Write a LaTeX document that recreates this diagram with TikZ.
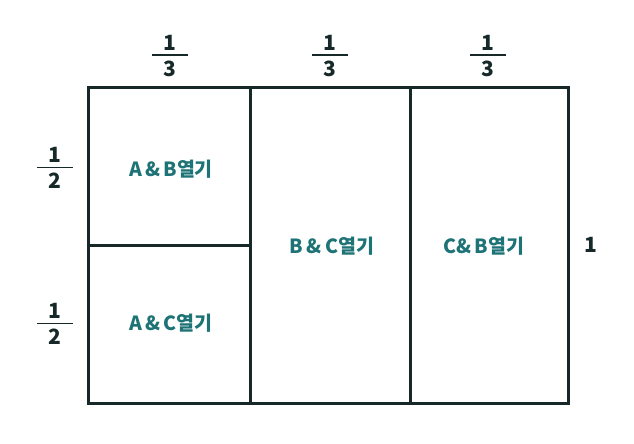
\documentclass[tikz,border=0pt]{standalone}
\usepackage{fontspec}
\setmainfont{Noto Sans CJK KR}
\definecolor{linec}{RGB}{22,40,40}
\definecolor{labc}{RGB}{30,115,118}
\newcommand{\myfrac}[2]{\vbox{\offinterlineskip\halign{\hfil##\hfil\cr #1\cr\noalign{\kern4pt}\rule{36pt}{1.6pt}\cr\noalign{\kern5pt}#2\cr}}}
\tikzset{
  wall/.style={draw=linec, line width=3pt},
  lab/.style={text=labc, font=\fontsize{19.5}{22}\selectfont\bfseries, inner sep=0pt},
  frac/.style={text=linec, font=\fontsize{21}{24}\selectfont\bfseries, inner sep=0pt},
}
\begin{document}
\begin{tikzpicture}[x=1pt,y=-1pt]
\useasboundingbox (0,0) rectangle (634,444);
\coordinate (tl) at (88,87);
\coordinate (br) at (568,403);
\coordinate (v1t) at (250,87);
\coordinate (v1b) at (250,403);
\coordinate (v2t) at (410,87);
\coordinate (v2b) at (410,403);
\coordinate (hl) at (88,245);
\coordinate (hr) at (250,245);
\draw[wall] (tl) rectangle (br);
\draw[wall] (v1t) -- (v1b);
\draw[wall] (v2t) -- (v2b);
\draw[wall] (hl) -- (hr);
\node[frac] (t1) at (170,56) {\myfrac{1}{3}};
\node[frac] (t2) at (330,56) {\myfrac{1}{3}};
\node[frac] (t3) at (488,56) {\myfrac{1}{3}};
\node[frac] (l1) at (55,168) {\myfrac{1}{2}};
\node[frac] (l2) at (55,324) {\myfrac{1}{2}};
\node[frac] (r1) at (591,245) {1};
\node[lab] (ab) at (171,169) {A\,\&\,B열기};
\node[lab] (ac) at (171,323) {A\,\&\,C열기};
\node[lab] (bc) at (332,246) {B\,\&\,C열기};
\node[lab] (cb) at (484,246) {C\&\,B열기};
\end{tikzpicture}
\end{document}
